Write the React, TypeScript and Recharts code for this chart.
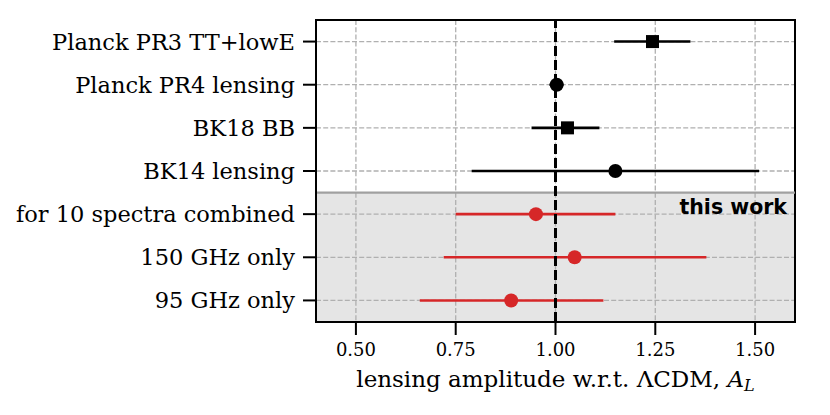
import React from "react";
import {
  ScatterChart,
  Scatter,
  XAxis,
  YAxis,
  CartesianGrid,
  ErrorBar,
  ReferenceLine,
  ReferenceArea,
} from "recharts";

const labels = [
  "Planck PR3 TT+lowE",
  "Planck PR4 lensing",
  "BK18 BB",
  "BK14 lensing",
  "for 10 spectra combined",
  "150 GHz only",
  "95 GHz only",
];
const values = [1.243, 1.003, 1.03, 1.15, 0.951, 1.048, 0.889];
const lows = [1.147, 0.985, 0.94, 0.79, 0.75, 0.72, 0.66];
const highs = [1.338, 1.02, 1.11, 1.51, 1.15, 1.378, 1.12];
const markers = ["square", "circle", "square", "circle", "red", "red", "red"];
const xTicks = [0.5, 0.75, 1.0, 1.25, 1.5];

const rows = values.map((v, i) => ({
  x: v,
  y: i,
  err: [v - lows[i], highs[i] - v],
  kind: markers[i],
}));
const squares = rows.filter((r) => r.kind === "square");
const circles = rows.filter((r) => r.kind === "circle");
const ours = rows.filter((r) => r.kind === "red");

const RED = "#d62728";
const SERIF = "DejaVu Serif";

const Square = (p: any) => (
  <rect x={p.cx - 6.5} y={p.cy - 6.5} width={13} height={13} fill="#000" />
);
const Dot = (p: any) => <circle cx={p.cx} cy={p.cy} r={7} fill={p.fill} />;

const XLabel = (props: any) => {
  const vb = props.viewBox;
  return (
    <text
      x={vb.x + vb.width / 2}
      y={387}
      textAnchor="middle"
      fontFamily={SERIF}
      fontSize={23}
      fill="#000"
    >
      lensing amplitude w.r.t. ΛCDM,{" "}
      <tspan fontStyle="italic">A</tspan>
      <tspan fontStyle="italic" fontSize={16} dy={4}>
        L
      </tspan>
    </text>
  );
};

const ThisWork = (props: any) => {
  const vb = props.viewBox;
  return (
    <text
      x={vb.x + vb.width - 8}
      y={214}
      textAnchor="end"
      fontFamily="DejaVu Sans"
      fontWeight="bold"
      fontSize={20.5}
      fill="#000"
    >
      this work
    </text>
  );
};

export default function App() {
  return (
    <div style={{ position: "fixed", left: 0, top: 0, background: "#fff" }}>
      <ScatterChart
        width={830}
        height={415}
        margin={{ top: 20, right: 35, bottom: 0, left: 0 }}
      >
        <ReferenceArea
          x1={0.4}
          x2={1.6}
          y1={3.5}
          y2={6.5}
          fill="#b0b0b0"
          fillOpacity={0.33}
          stroke="none"
          label={<ThisWork />}
        />
        <CartesianGrid stroke="#b0b0b0" strokeDasharray="5 2.2" strokeWidth={1.3} />
        <ReferenceLine y={3.5} stroke="#a0a0a0" strokeWidth={2.2} />
        <XAxis
          type="number"
          dataKey="x"
          domain={[0.4, 1.6]}
          ticks={xTicks}
          allowDataOverflow
          tickFormatter={(v: number) => v.toFixed(2)}
          height={93}
          tickSize={13}
          tickMargin={8}
          axisLine={{ stroke: "#000", strokeWidth: 2 }}
          tickLine={{ stroke: "#000", strokeWidth: 2 }}
          tick={{ fill: "#000", fontSize: 18, fontFamily: SERIF }}
          label={<XLabel />}
        />
        <YAxis
          type="number"
          dataKey="y"
          domain={[-0.5, 6.5]}
          ticks={[0, 1, 2, 3, 4, 5, 6]}
          reversed
          interval={0}
          width={316}
          tickSize={13}
          tickMargin={8}
          tickFormatter={(v: number) => labels[v]}
          axisLine={{ stroke: "#000", strokeWidth: 2 }}
          tickLine={{ stroke: "#000", strokeWidth: 2 }}
          tick={{ fill: "#000", fontSize: 22.5, fontFamily: SERIF }}
        />
        <Scatter data={squares} fill="#000" shape={Square} isAnimationActive={false}>
          <ErrorBar dataKey="err" direction="x" width={0} stroke="#000" strokeWidth={2.6} />
        </Scatter>
        <Scatter data={circles} fill="#000" shape={Dot} isAnimationActive={false}>
          <ErrorBar dataKey="err" direction="x" width={0} stroke="#000" strokeWidth={2.6} />
        </Scatter>
        <Scatter data={ours} fill={RED} shape={Dot} isAnimationActive={false}>
          <ErrorBar dataKey="err" direction="x" width={0} stroke={RED} strokeWidth={2.6} />
        </Scatter>
        <ReferenceLine x={1} stroke="#000" strokeWidth={3} strokeDasharray="10 4" />
        <ReferenceArea
          x1={0.4}
          x2={1.6}
          y1={-0.5}
          y2={6.5}
          fill="none"
          stroke="#000"
          strokeWidth={2}
        />
      </ScatterChart>
    </div>
  );
}
